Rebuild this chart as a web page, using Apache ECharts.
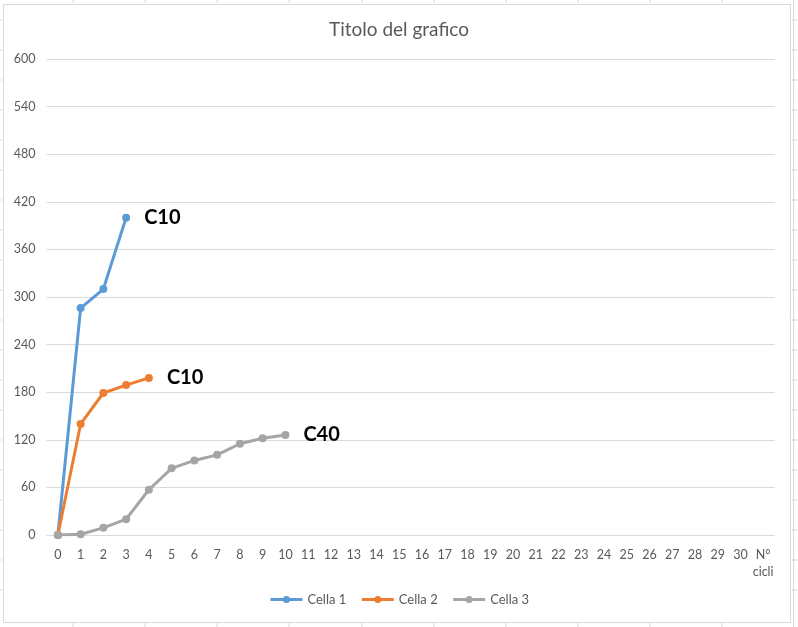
<!DOCTYPE html>
<html>
<head>
<meta charset="utf-8">
<script src="https://cdn.jsdelivr.net/npm/echarts@6/dist/echarts.min.js"></script>
<style>
html,body{margin:0;padding:0;background:#fff;}
#c{width:798px;height:627px;}
</style>
</head>
<body>
<div id="c"></div>
<script>
const categories = ['0','1','2','3','4','5','6','7','8','9','10','11','12','13','14','15','16','17','18','19','20','21','22','23','24','25','26','27','28','29','30','N°\ncicli'];
const cella1 = [0, 286, 310, 400];
const cella2 = [0, 140, 179, 189, 198];
const cella3 = [0, 1, 9, 20, 57, 84, 94, 101, 115, 122, 126];
const endLabels = ['C10', 'C10', 'C40'];
const seriesNames = ['Cella 1', 'Cella 2', 'Cella 3'];
const colors = ['#5B9BD5', '#ED7D31', '#A5A5A5'];

const font = 'Lato, "Open Sans", sans-serif';
const chart = echarts.init(document.getElementById('c'));

function mkSeries(name, data, color, label) {
  return {
    name: name,
    type: 'line',
    data: data.map((v, i) => i === data.length - 1 ? {
      value: v,
      label: {show: true, formatter: label, position: 'right', distance: 14,
        color: '#000', fontWeight: 'bold', fontSize: 20, fontFamily: font}
    } : v),
    symbol: 'circle',
    symbolSize: 8,
    lineStyle: {width: 3, color: color},
    itemStyle: {color: color},
    emphasis: {disabled: true},
    animation: false,
    z: 3
  };
}

// spreadsheet cell lines outside the chart
const cellLines = [];
[73, 145, 217, 289, 362, 434, 506, 578, 650, 722].forEach(x => {
  cellLines.push({type: 'line', shape: {x1: x, y1: 0, x2: x, y2: 3}, style: {stroke: '#d9d9d9', lineWidth: 1}, silent: true});
  cellLines.push({type: 'line', shape: {x1: x, y1: 623, x2: x, y2: 627}, style: {stroke: '#d9d9d9', lineWidth: 1}, silent: true});
});
[20, 50, 80, 110, 140, 170, 200, 230, 260, 290, 320, 350, 380, 410, 440, 470, 500, 530, 560, 590].forEach(y => {
  cellLines.push({type: 'line', shape: {x1: 792, y1: y, x2: 798, y2: y}, style: {stroke: '#d9d9d9', lineWidth: 1}, silent: true});
  cellLines.push({type: 'line', shape: {x1: 0, y1: y, x2: 2, y2: y}, style: {stroke: '#d9d9d9', lineWidth: 1}, silent: true});
});
cellLines.push({type: 'line', shape: {x1: 793.5, y1: 0, x2: 793.5, y2: 627}, style: {stroke: '#d9d9d9', lineWidth: 1}, silent: true});
cellLines.push({type: 'rect', shape: {x: 3.5, y: 4.5, width: 787, height: 618}, style: {fill: 'none', stroke: '#d9d9d9', lineWidth: 1}, silent: true});

chart.setOption({
  backgroundColor: '#fff',
  animation: false,
  graphic: cellLines,
  title: {
    text: 'Titolo del grafico',
    left: 'center',
    top: 15,
    textStyle: {fontFamily: font, fontSize: 19, fontWeight: 'normal', color: '#595959'}
  },
  legend: {
    bottom: 16,
    left: 'center',
    itemWidth: 32,
    itemHeight: 9,
    itemGap: 14,
    data: seriesNames,
    lineStyle: {width: 3},
    textStyle: {fontFamily: font, fontSize: 13, color: '#595959'}
  },
  grid: {left: 46.5, right: 23.5, top: 59, bottom: 92, containLabel: false},
  xAxis: {
    type: 'category',
    data: categories,
    boundaryGap: true,
    axisLine: {show: false},
    axisTick: {show: false},
    axisLabel: {interval: 0, margin: 11, color: '#595959', fontFamily: font, fontSize: 12.5, lineHeight: 17, verticalAlign: 'top'},
    splitLine: {show: false}
  },
  yAxis: {
    type: 'value',
    min: 0,
    max: 600,
    interval: 60,
    axisLine: {show: false},
    axisTick: {show: false},
    axisLabel: {margin: 11, color: '#595959', fontFamily: font, fontSize: 12.5},
    splitLine: {lineStyle: {color: '#d9d9d9', width: 1}}
  },
  series: [
    mkSeries(seriesNames[0], cella1, colors[0], endLabels[0]),
    mkSeries(seriesNames[1], cella2, colors[1], endLabels[1]),
    mkSeries(seriesNames[2], cella3, colors[2], endLabels[2])
  ]
});
</script>
</body>
</html>
